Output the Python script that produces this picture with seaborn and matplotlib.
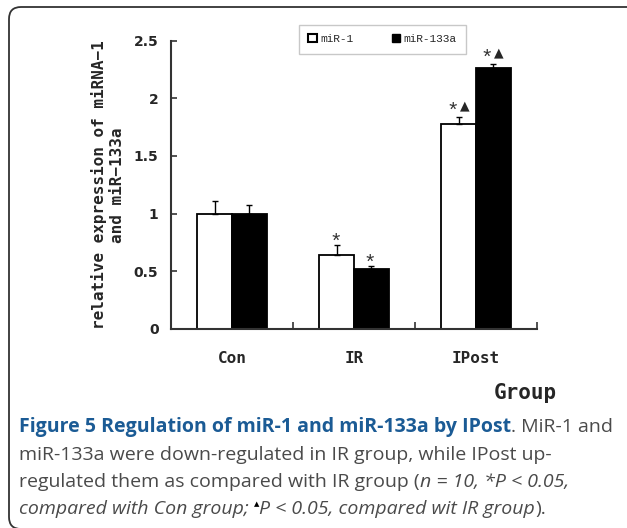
import matplotlib
matplotlib.use('Agg')
import matplotlib.pyplot as plt
import seaborn as sns
import pandas as pd
from matplotlib.patches import FancyBboxPatch, Patch

groups = ['Con', 'IR', 'IPost']
series = ['miR-1', 'miR-133a']
mir1 = [1.00, 0.64, 1.78]
mir1_err = [0.11, 0.085, 0.06]
mir133 = [1.00, 0.52, 2.26]
mir133_err = [0.07, 0.02, 0.04]
# significance marks: * vs Con, ▲ vs IR
mir1_marks = ['', '*', '*▲']
mir133_marks = ['', '*', '*▲']
yticks = [0, 0.5, 1, 1.5, 2, 2.5]
ytick_labels = ['0', '0.5', '1', '1.5', '2', '2.5']

sns.set_style('white')
plt.rcParams['font.family'] = ['DejaVu Sans']

W, H = 627, 528
fig = plt.figure(figsize=(W / 100, H / 100), dpi=100)
ax = fig.add_axes([171 / W, 1 - 328.7 / H, (537 - 171) / W, (328.7 - 40.7) / H])

df = pd.DataFrame({
    'group': groups * 2,
    'series': [series[0]] * 3 + [series[1]] * 3,
    'value': mir1 + mir133,
})
sns.barplot(data=df, x='group', y='value', hue='series', palette=['white', 'black'],
            saturation=1, edgecolor='black', linewidth=1.3, width=0.566,
            errorbar=None, ax=ax)

# upper error bars and significance marks
for cont, errs, marks in zip(ax.containers, [mir1_err, mir133_err], [mir1_marks, mir133_marks]):
    for bar, e, m in zip(cont, errs, marks):
        xc = bar.get_x() + bar.get_width() / 2
        h = bar.get_height()
        ax.errorbar(xc, h, yerr=[[0], [e]], color='black', capsize=2.5,
                    elinewidth=1, capthick=1)
        if m == '*':
            ax.annotate('*', (xc, h + e), xytext=(-1, -2), textcoords='offset points',
                        ha='center', va='baseline', fontsize=15, family='Liberation Mono',
                        color='#333')
        elif m:
            ax.annotate('*', (xc, h + e), xytext=(-4.5, 0), textcoords='offset points',
                        ha='center', va='baseline', fontsize=15, family='Liberation Mono',
                        color='#333')
            ax.annotate('▲', (xc, h + e), xytext=(4, 5.5), textcoords='offset points',
                        ha='center', va='baseline', fontsize=9, family='DejaVu Sans')

ax.set_xlim(-0.5, 2.5)
ax.set_ylim(0, 2.5)
ax.set_yticks(yticks, labels=ytick_labels)
ax.set_xticks([-0.5, 0.5, 1.5, 2.5], minor=True)
ax.tick_params(axis='x', which='minor', direction='in', length=5, width=1.2, color='#333', bottom=True)
ax.tick_params(axis='x', which='major', length=0, pad=16)
ax.tick_params(axis='y', direction='in', length=4.5, width=1.2, color='#333', pad=9, left=True)
for lab in ax.get_yticklabels():
    lab.set_fontweight('bold')
    lab.set_fontsize(10)
for lab in ax.get_xticklabels():
    lab.set_family('DejaVu Sans Mono')
    lab.set_fontweight('bold')
    lab.set_fontsize(11.5)
for s in ['top', 'right']:
    ax.spines[s].set_visible(False)
for s in ['left', 'bottom']:
    ax.spines[s].set_linewidth(1.5)
    ax.spines[s].set_color('#333')

ax.set_ylabel('')
ax.set_xlabel('Group', family='DejaVu Sans Mono', fontweight='bold', fontsize=15, va='center')
ax.xaxis.set_label_coords((525 - 171) / 366, -(393 - 328.7) / 288)
fig.text(108 / W, 1 - 185 / H, 'relative expression of miRNA−1\nand miR−133a', rotation=90,
         ha='center', va='center', family='DejaVu Sans Mono', fontweight='bold',
         fontsize=11.5, linespacing=1.3, multialignment='center')

handles = [Patch(facecolor='white', edgecolor='black', linewidth=1.5, label=series[0]),
           Patch(facecolor='black', edgecolor='black', label=series[1])]
ax.legend(handles=handles, ncol=2, loc='upper left', bbox_to_anchor=(299 / W, 1 - 24.7 / H),
          bbox_transform=fig.transFigure, frameon=True, fancybox=False, edgecolor='#bbbbbb',
          prop={'family': 'Liberation Mono', 'size': 8}, handlelength=0.75, handleheight=0.75,
          handletextpad=0.35, columnspacing=3.4, borderpad=0.85, borderaxespad=0)

# caption
blue = '#1b5b95'
grey = '#4a4a4a'
renderer = fig.canvas.get_renderer()


def draw_runs(x, y, runs):
    for s, kw in runs:
        kw = dict(kw)
        dy = kw.pop('dy', 0)
        kw.setdefault('family', 'Open Sans')
        kw.setdefault('fontsize', 14)
        t = fig.text(x / W, 1 - (y - dy) / H, s, ha='left', va='baseline', **kw)
        x = t.get_window_extent(renderer=renderer).x1


draw_runs(19, 432, [('Figure 5 Regulation of miR-1 and miR-133a by IPost', dict(color=blue, fontweight='bold')),
                    ('. MiR-1 and', dict(color=grey))])
draw_runs(19, 460, [('miR-133a were down-regulated in IR group, while IPost up-', dict(color=grey))])
draw_runs(19, 487, [('regulated them as compared with IR group (', dict(color=grey)),
                    ('n = 10, *P < 0.05,', dict(color=grey, style='italic'))])
draw_runs(19, 514, [('compared with Con group; ', dict(color=grey, style='italic')),
                    ('▲', dict(color='black', fontsize=5, dy=8, family='DejaVu Sans')),
                    ('P < 0.05, compared wit IR group', dict(color=grey, style='italic')),
                    (').', dict(color=grey))])

frame = FancyBboxPatch((0.09, -0.01), 6.4, 5.22, boxstyle='round,pad=0,rounding_size=0.12',
                       transform=fig.dpi_scale_trans, facecolor='none', edgecolor='#333333',
                       linewidth=1.3, clip_on=False)
fig.add_artist(frame)

fig.savefig('out.png', dpi=100)
